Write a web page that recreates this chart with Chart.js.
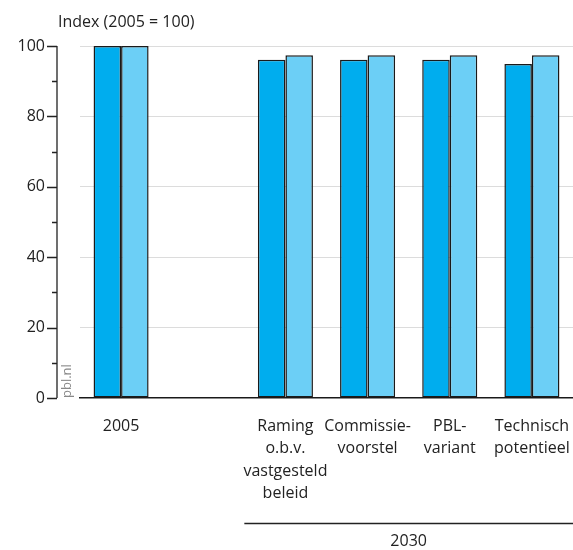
<!DOCTYPE html>
<html>
<head>
<meta charset="utf-8">
<script src="https://cdn.jsdelivr.net/npm/chart.js@4"></script>
<style>
    html, body { margin: 0; padding: 0; background: #fff; }
    #wrap { width: 573px; height: 550px; position: relative; }
</style>
</head>
<body>
<div id="wrap"><canvas id="chart"></canvas></div>
<script>
const categories = [
    ["2005"],
    [""],
    ["Raming", "o.b.v.", "vastgesteld", "beleid"],
    ["Commissie-", "voorstel"],
    ["PBL-", "variant"],
    ["Technisch", "potentieel"]
];
const seriesDark = [100, null, 96.1, 96.1, 96.1, 94.9];
const seriesLight = [100, null, 97.4, 97.4, 97.4, 97.4];
const yTicks = [0, 20, 40, 60, 80, 100];
const titleText = "Index (2005 = 100)";
const groupLabel = "2030";
const fontFamily = "'Open Sans', sans-serif";

const extrasPlugin = {
    id: "extras",
    afterDraw: function (chart) {
        var ctx = chart.ctx;
        var y = chart.scales.y;
        var x = chart.scales.x;
        var area = chart.chartArea;
        var axisX = 57;

        ctx.save();
        // y axis line + ticks
        ctx.strokeStyle = "#222";
        ctx.lineWidth = 1.3;
        ctx.beginPath();
        ctx.moveTo(axisX, y.getPixelForValue(0));
        ctx.lineTo(axisX, y.getPixelForValue(100));
        for (var v = 0; v <= 100; v += 10) {
            var py = Math.round(y.getPixelForValue(v)) + 0.5;
            var len = (v % 20 == 0) ? 10 : 5;
            ctx.moveTo(axisX - len, py);
            ctx.lineTo(axisX, py);
        }
        ctx.stroke();

        // title
        ctx.fillStyle = "#222";
        ctx.font = "16px " + fontFamily;
        ctx.textAlign = "left";
        ctx.textBaseline = "middle";
        ctx.fillText(titleText, 58, 22);

        // pbl.nl
        ctx.save();
        ctx.translate(67, 398);
        ctx.rotate(-Math.PI / 2);
        ctx.fillStyle = "#888";
        ctx.font = "13px " + fontFamily;
        ctx.textAlign = "left";
        ctx.textBaseline = "middle";
        ctx.fillText("pbl.nl", 0, 0);
        ctx.restore();

        // group line and label
        var catW = x.getPixelForValue(1) - x.getPixelForValue(0);
        var gx1 = x.getPixelForValue(2) - catW / 2;
        var gx2 = area.right;
        ctx.strokeStyle = "#222";
        ctx.lineWidth = 1.3;
        ctx.beginPath();
        ctx.moveTo(gx1, 523.5);
        ctx.lineTo(gx2, 523.5);
        ctx.stroke();
        ctx.textAlign = "center";
        ctx.font = "16px " + fontFamily;
        ctx.fillText(groupLabel, (gx1 + gx2) / 2, 541);
        ctx.restore();
    }
};

new Chart(document.getElementById("chart"), {
    type: "bar",
    data: {
        labels: categories,
        datasets: [
            {
                data: seriesDark,
                backgroundColor: "#00ADEE",
                borderColor: "#1a1a1a",
                borderWidth: 1.5,
                borderSkipped: false
            },
            {
                data: seriesLight,
                backgroundColor: "#6CCFF6",
                borderColor: "#1a1a1a",
                borderWidth: 1.5,
                borderSkipped: false
            }
        ]
    },
    options: {
        responsive: true,
        maintainAspectRatio: false,
        animation: false,
        devicePixelRatio: 1,
        layout: { padding: { top: 46, right: 0, bottom: 0, left: 0 } },
        datasets: {
            bar: { barPercentage: 1, categoryPercentage: 0.67 }
        },
        scales: {
            x: {
                grid: { display: false, drawTicks: false },
                border: { display: true, color: "#1a1a1a", width: 1.5 },
                ticks: {
                    color: "#222",
                    padding: 17,
                    maxRotation: 0,
                    autoSkip: false,
                    font: { family: fontFamily, size: 16, lineHeight: 1.4 }
                },
                afterFit: function (scale) {
                    scale.height = 152;
                    scale.paddingLeft = 0;
                    scale.paddingRight = 0;
                }
            },
            y: {
                min: 0,
                max: 100,
                afterBuildTicks: function (scale) {
                    scale.ticks = yTicks.map(function (v) { return { value: v }; });
                },
                grid: {
                    color: function (c) { return c.tick.value == 0 ? "rgba(0,0,0,0)" : "#dcdcdc"; },
                    lineWidth: 1,
                    drawTicks: false
                },
                border: { display: false },
                ticks: {
                    color: "#222",
                    padding: 35,
                    font: { family: fontFamily, size: 16 }
                },
                afterFit: function (scale) { scale.width = 80; }
            }
        },
        plugins: {
            legend: { display: false },
            tooltip: { enabled: false }
        }
    },
    plugins: [extrasPlugin]
});
</script>
</body>
</html>
